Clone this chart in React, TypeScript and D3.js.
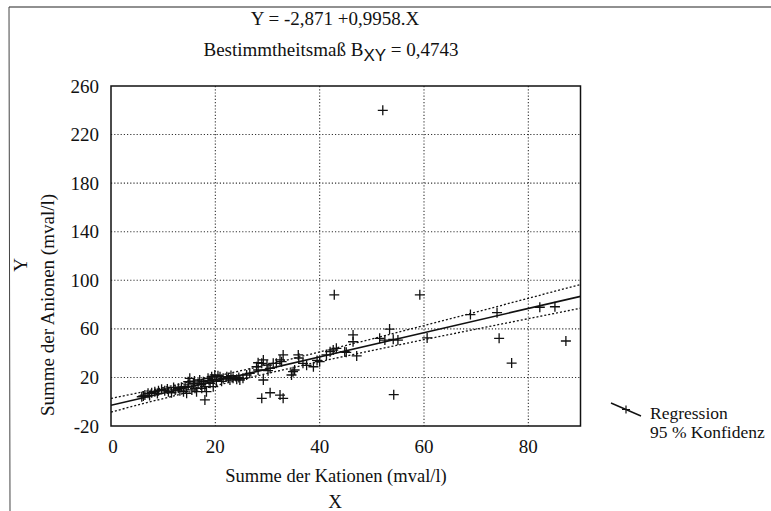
import React from "react";
import * as d3 from "d3";

// ---- data ----
const kationen: number[] = [
  5.9, 6.5, 7.1, 7.8, 8.4, 9.1, 9.7, 10.3, 11.0, 11.6, 12.3, 12.9, 13.5, 14.2, 14.8, 15.1, 15.8, 16.1, 16.7, 17.0,
  17.7, 18.0, 18.6, 19.0, 19.3, 19.9, 20.2, 20.9, 21.5, 22.2, 22.8, 23.4, 24.1, 13.9, 14.5, 15.5, 16.4, 17.4, 18.3, 19.6,
  6.2, 7.4, 8.9, 10.8, 12.0, 13.2, 14.8, 16.0, 17.3, 18.8, 19.5, 20.5, 21.2, 22.5, 23.0, 24.5, 25.3, 26.0, 26.6, 24.7,
  18.0,
  28.2, 27.9, 28.2, 28.9, 29.2, 29.9, 30.5, 29.2, 28.9, 30.5, 32.4, 33.0, 31.7, 32.4, 33.0, 34.6, 34.9, 35.9, 36.8, 38.8,
  40.0, 41.3, 42.0, 42.6, 43.2, 44.8, 45.1, 46.4, 46.4, 47.1, 42.8, 52.1, 59.2, 53.4, 51.5, 52.5, 54.1, 55.0, 54.2, 60.6,
  68.9, 74.0, 82.2, 85.1, 74.4, 87.2, 76.8, 30.1, 31.1, 32.7, 35.2, 36.0, 37.5, 39.5,
];
const anionen: number[] = [
  4.1, 5.5, 6.9, 7.4, 8.3, 9.1, 10.2, 9.1, 8.3, 7.4, 9.7, 11.1, 11.9, 12.4, 13.8, 19.3, 15.2, 11.1, 15.2, 17.9,
  16.5, 12.4, 19.3, 15.2, 20.6, 22.0, 17.9, 20.6, 19.3, 20.6, 17.9, 19.3, 18.5, 8.3, 6.9, 9.7, 8.3, 11.1, 8.3, 12.4,
  4.8, 5.2, 6.8, 10.5, 11.8, 9.0, 16.5, 17.0, 14.0, 17.5, 18.4, 21.4, 16.8, 19.8, 21.5, 20.0, 19.3, 22.0, 23.4, 17.9,
  1.5,
  32.1, 28.8, 26.1, 31.6, 34.4, 30.2, 27.5, 17.9, 2.8, 7.4, 5.5, 2.8, 31.6, 34.4, 38.5, 22.0, 24.7, 38.5, 31.6, 28.8,
  33.0, 38.5, 41.2, 42.6, 44.0, 41.2, 40.7, 55.0, 49.4, 37.7, 88.0, 240.0, 88.0, 59.8, 52.2, 50.8, 51.4, 50.8, 5.8, 52.5,
  71.8, 73.3, 77.8, 78.2, 52.2, 50.0, 31.8, 25.6, 31.6, 33.0, 26.1, 36.0, 30.0, 34.0,
];

const regIntercept = -2.871;
const regSlope = 0.9958;

const bandX: number[] = [0, 10, 20, 30, 40, 50, 60, 70, 80, 90];
const bandUpper: number[] = [2.7, 11.6, 20.9, 30.5, 41.0, 51.7, 62.7, 73.8, 85.2, 96.5];
const bandLower: number[] = [-8.5, 2.6, 13.2, 23.3, 33.0, 42.1, 51.1, 59.8, 68.4, 77.0];

const xTicks: number[] = [0, 20, 40, 60, 80];
const yTicks: number[] = [-20, 20, 60, 100, 140, 180, 220, 260];

const FONT = "Liberation Serif";
const SANS = "Liberation Sans";

export default function App() {
  const W = 771;
  const H = 511;
  const left = 111, right = 580.5, top = 86, bottom = 426;
  const x = d3.scaleLinear().domain([0, 90]).range([left, right]);
  const y = d3.scaleLinear().domain([-20, 260]).range([bottom, top]);

  const lineGen = d3
    .line<[number, number]>()
    .x((d) => x(d[0]))
    .y((d) => y(d[1]))
    .curve(d3.curveMonotoneX);

  const regPts: [number, number][] = [0, 90].map((v) => [v, regIntercept + regSlope * v]);
  const upPts: [number, number][] = bandX.map((v, i) => [v, bandUpper[i]]);
  const loPts: [number, number][] = bandX.map((v, i) => [v, bandLower[i]]);

  const pts = kationen.map((v, i) => [v, anionen[i]] as [number, number]);
  const m = 5;
  const tf = { fontFamily: FONT };

  return (
    <svg
      width={W}
      height={H}
      style={{ position: "absolute", left: 0, top: 0, background: "#fff", fontFamily: FONT }}
    >
      <rect x={0} y={0} width={W} height={H} fill="#fff" />
      {/* outer frame */}
      <line x1={9} y1={7} x2={W} y2={7} stroke="#222" strokeWidth={1.2} />
      <line x1={9} y1={7} x2={10} y2={H} stroke="#444" strokeWidth={1} />

      {/* titles */}
      <text x={335} y={25} textAnchor="middle" fontSize={19} fill="#111" style={tf}>
        Y = -2,871 +0,9958.X
      </text>
      <text x={331} y={56} textAnchor="middle" fontSize={19} fill="#111" style={tf}>
        Bestimmtheitsmaß B
        <tspan dy={5} style={{ fontFamily: SANS }} fontSize={17}>XY</tspan>
        <tspan dy={-5}> = 0,4743</tspan>
      </text>

      <defs>
        <clipPath id="plotClip">
          <rect x={left} y={top} width={right - left} height={bottom - top} />
        </clipPath>
      </defs>

      {/* grid */}
      <g clipPath="url(#plotClip)">
        {yTicks.filter((t) => t > -20 && t < 260).map((t) => (
          <line key={"gy" + t} x1={left} x2={right} y1={y(t)} y2={y(t)} stroke="#333" strokeWidth={1.1} strokeDasharray="1.2,2" />
        ))}
        {xTicks.filter((t) => t > 0).map((t) => (
          <line key={"gx" + t} x1={x(t)} x2={x(t)} y1={top} y2={bottom} stroke="#333" strokeWidth={1.1} strokeDasharray="1.2,2" />
        ))}
      </g>

      {/* regression + bands */}
      <g clipPath="url(#plotClip)" fill="none">
        <path d={lineGen(upPts) || ""} stroke="#111" strokeWidth={1.3} strokeDasharray="2,2" />
        <path d={lineGen(loPts) || ""} stroke="#111" strokeWidth={1.3} strokeDasharray="2,2" />
        <path d={lineGen(regPts) || ""} stroke="#111" strokeWidth={1.6} />
      </g>

      {/* points */}
      <g stroke="#111" strokeWidth={1.3}>
        {pts.map((p, i) => (
          <path
            key={i}
            d={`M${x(p[0]) - m},${y(p[1])}H${x(p[0]) + m}M${x(p[0])},${y(p[1]) - m}V${y(p[1]) + m}`}
          />
        ))}
      </g>

      {/* frame */}
      <rect x={left} y={top} width={right - left} height={bottom - top} fill="none" stroke="#111" strokeWidth={1.5} />

      {/* y ticks */}
      {yTicks.map((t) => (
        <text key={"yl" + t} x={99} y={y(t) + 6.5} textAnchor="end" fontSize={19} fill="#111" style={tf}>
          {t}
        </text>
      ))}
      {/* x ticks */}
      {xTicks.map((t) => (
        <text key={"xl" + t} x={x(t) + (t === 0 ? 2 : 0)} y={453} textAnchor="middle" fontSize={19} fill="#111" style={tf}>
          {t}
        </text>
      ))}

      {/* axis titles */}
      <text x={336} y={482} textAnchor="middle" fontSize={18.5} fill="#111" style={tf}>
        Summe der Kationen (mval/l)
      </text>
      <text x={335} y={508} textAnchor="middle" fontSize={19} fill="#111" style={tf}>
        X
      </text>
      <text transform="translate(27,265) rotate(-90)" textAnchor="middle" fontSize={19} fill="#111" style={tf}>
        Y
      </text>
      <text transform="translate(54,305) rotate(-90)" textAnchor="middle" fontSize={19} fill="#111" style={tf}>
        Summe der Anionen (mval/l)
      </text>

      {/* legend */}
      <line x1={611} y1={403} x2={641} y2={416} stroke="#111" strokeWidth={1.4} />
      <path d={`M${626 - 4},${409.5}H${626 + 4}M${626},${409.5 - 4}V${409.5 + 4}`} stroke="#111" strokeWidth={1.2} />
      <text x={650} y={419} fontSize={17.5} fill="#111" style={tf}>Regression</text>
      <text x={650} y={438} fontSize={17.5} fill="#111" style={tf}>95 % Konfidenz</text>
    </svg>
  );
}
